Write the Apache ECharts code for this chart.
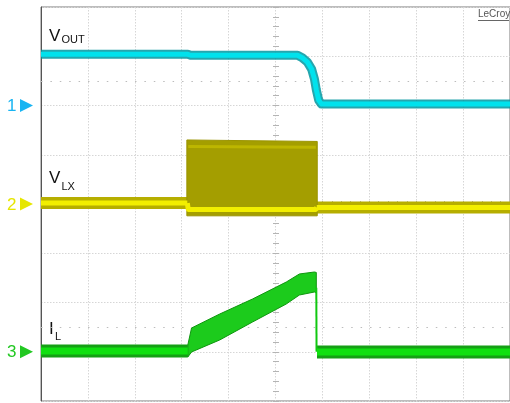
<!DOCTYPE html>
<html>
<head>
<meta charset="utf-8">
<script src="https://cdn.jsdelivr.net/npm/echarts@6/dist/echarts.min.js"></script>
<style>
  html, body { margin: 0; padding: 0; background: #ffffff; }
  #c { width: 510px; height: 403px; }
</style>
</head>
<body>
<div id="c"></div>
<script>
// Screen units: time in divisions (10 across), amplitude in divisions (8 high, 0 at the bottom)
const channelNames   = ['1', '2', '3'];
const channelOffsets = [6.0, 4.0, 1.0];
const channelColors  = ['#18b4f2', '#e6e600', '#22c822'];

// Channel 1: V_OUT
const voutT = [0, 3.13, 3.19, 5.47, 5.57, 5.68, 5.77, 5.83, 5.87, 5.92, 5.98, 10];
const voutV = [7.04, 7.04, 7.02, 7.02, 6.97, 6.88, 6.74, 6.54, 6.32, 6.11, 6.03, 6.03];

// Channel 2: V_LX (idle before, switching envelope, idle after)
const vlxPreT  = [0, 3.12];
const vlxPreV  = [4.02, 4.02];
const vlxOnT   = [3.12, 3.14, 5.86, 5.88];
const vlxOnV   = [4.02, 3.89, 3.89, 3.93];
const vlxPostT = [5.88, 10];
const vlxPostV = [3.93, 3.93];
const vlxSwT  = [3.11, 5.89];
const vlxSwLo = [3.76, 3.76];
const vlxSwHi = [5.30, 5.27];
const vlxTopT = [3.14, 5.86];
const vlxTopV = [5.17, 5.15];

// Channel 3: I_L (flat parts, ramp envelope, turn-off edge)
const ilPreT  = [0, 3.13];
const ilPreV  = [1.015, 1.015];
const ilPostT = [5.885, 10];
const ilPostV = [0.995, 0.995];
const ilEdgeT = [5.87, 5.875];
const ilEdgeV = [2.30, 1.00];
const ilRampT  = [3.13, 3.21, 3.81, 4.51, 5.23, 5.51, 5.83, 5.87];
const ilRampLo = [0.893, 0.995, 1.239, 1.604, 1.970, 2.152, 2.213, 2.193];
const ilRampHi = [1.137, 1.482, 1.766, 2.071, 2.416, 2.579, 2.619, 2.610];

// Dotted reference rows
const dotRows = [6.5, 1.5];

const FONT = 'Liberation Sans, Arial, sans-serif';

function pairs(T, V) { return T.map((t, i) => [t, V[i]]); }

function trace(name, T, V, color, width, z) {
  return {
    type: 'line', name, data: pairs(T, V), symbol: 'none', silent: true, z,
    lineStyle: { color, width, cap: 'butt', join: 'round' }, animation: false
  };
}

function band(name, T, lo, hi, fill, stroke, z) {
  return {
    type: 'custom', name, coordinateSystem: 'cartesian2d', silent: true, z, clip: true,
    data: [[T[0], lo[0]]],
    renderItem: function (params, api) {
      const pts = [];
      for (let i = 0; i < T.length; i++) pts.push(api.coord([T[i], hi[i]]));
      for (let i = T.length - 1; i >= 0; i--) pts.push(api.coord([T[i], lo[i]]));
      return { type: 'polygon', shape: { points: pts }, style: { fill, stroke, lineWidth: 1 } };
    },
    animation: false
  };
}

const tickStyle = { color: '#b4b4b4' };
const tickAxisX = (inside) => ({
  type: 'value', min: 0, max: 10, interval: 1, position: 'bottom', offset: -197,
  axisLine: { show: false }, axisLabel: { show: false }, splitLine: { show: false },
  axisTick: { show: true, inside, length: 3, lineStyle: tickStyle },
  minorTick: { show: true, splitNumber: 5, length: 3, lineStyle: tickStyle }
});
const tickAxisY = (inside) => ({
  type: 'value', min: 0, max: 8, interval: 1, position: 'left', offset: -235,
  axisLine: { show: false }, axisLabel: { show: false }, splitLine: { show: false },
  axisTick: { show: true, inside, length: 3, lineStyle: tickStyle },
  minorTick: { show: true, splitNumber: 5, length: 3, lineStyle: tickStyle }
});

const chart = echarts.init(document.getElementById('c'), null, { renderer: 'canvas' });

chart.setOption({
  animation: false,
  backgroundColor: '#ffffff',
  grid: { left: 41, top: 7, right: -1, bottom: 2, show: true, borderColor: '#7a7a7a', borderWidth: 1 },
  xAxis: [
    {
      type: 'value', min: 0, max: 10, interval: 1,
      axisLine: { show: false }, axisTick: { show: false }, axisLabel: { show: false },
      splitLine: { show: true, lineStyle: { color: '#d6d6d6', type: [1.5, 1.5], width: 1 } }
    },
    tickAxisX(false), tickAxisX(true)
  ],
  yAxis: [
    {
      type: 'value', min: 0, max: 8, interval: 1,
      axisLine: { show: true, lineStyle: { color: '#555555', width: 1 } },
      axisTick: { show: false }, axisLabel: { show: false },
      splitLine: { show: true, lineStyle: { color: '#d6d6d6', type: [1.5, 1.5], width: 1 } }
    },
    tickAxisY(false), tickAxisY(true)
  ],
  series: [
    {
      type: 'line', name: 'rows', data: [], silent: true, z: 1,
      markLine: {
        silent: true, symbol: 'none', label: { show: false }, animation: false,
        lineStyle: { color: '#bcbcbc', type: [1.5, 7.9], width: 1.2 },
        data: dotRows.map(v => ({ yAxis: v }))
      }
    },
    // V_OUT
    trace('VOUT fringe', voutT, voutV, 'rgba(0,150,160,0.85)', 9, 5),
    trace('VOUT', voutT, voutV, '#00e2ed', 5, 6),
    // V_LX
    trace('VLX fringe', vlxPreT, vlxPreV, '#b6ae00', 12, 5),
    trace('VLX fringe post', vlxPostT, vlxPostV, '#b6ae00', 12, 5),
    band('VLX switching', vlxSwT, vlxSwLo, vlxSwHi, '#a49e00', '#9a9400', 6),
    trace('VLX top', vlxTopT, vlxTopV, 'rgba(200,192,0,0.7)', 3, 7),
    trace('VLX', vlxPreT, vlxPreV, '#f2ee00', 5, 8),
    trace('VLX on', vlxOnT, vlxOnV, '#f2ee00', 5, 8),
    trace('VLX post', vlxPostT, vlxPostV, '#f2ee00', 5, 8),
    // I_L
    trace('IL fringe', ilPreT, ilPreV, '#15a015', 13, 5),
    trace('IL fringe post', ilPostT, ilPostV, '#15a015', 13, 5),
    band('IL ramp', ilRampT, ilRampLo, ilRampHi, '#1ccb1c', '#0f960f', 6),
    trace('IL edge', ilEdgeT, ilEdgeV, '#10c810', 2, 6),
    trace('IL', ilPreT, ilPreV, '#10e010', 7, 7),
    trace('IL post', ilPostT, ilPostV, '#10e010', 7, 7)
  ]
});

// Channel markers, trace names and the instrument badge
const graphics = [];
channelOffsets.forEach((off, i) => {
  const y = chart.convertToPixel({ yAxisIndex: 0 }, off);
  graphics.push({
    type: 'text', silent: true,
    style: { text: channelNames[i], x: 7, y: y + 1, font: '17px ' + FONT, fill: channelColors[i], verticalAlign: 'middle' }
  });
  graphics.push({
    type: 'polygon', silent: true,
    shape: { points: [[20, y - 6.5], [33, y], [20, y + 6.5]] },
    style: { fill: channelColors[i] }
  });
});

const names = [
  { main: 'V', sub: 'OUT', x: 49, y: 28, subX: 61.5, subY: 34 },
  { main: 'V', sub: 'LX',  x: 49, y: 170, subX: 61.5, subY: 181 },
  { main: 'I', sub: 'L',   x: 49, y: 321, subX: 55, subY: 331 }
];
names.forEach(n => {
  graphics.push({ type: 'text', silent: true, style: { text: n.main, x: n.x, y: n.y, font: '17px ' + FONT, fill: '#111111', verticalAlign: 'top' } });
  graphics.push({ type: 'text', silent: true, style: { text: n.sub, x: n.subX, y: n.subY, font: '11px ' + FONT, fill: '#111111', verticalAlign: 'top' } });
});

graphics.push({ type: 'text', silent: true, style: { text: 'LeCroy', x: 478, y: 9, font: '10px ' + FONT, fill: '#555555', verticalAlign: 'top' } });
graphics.push({ type: 'line', silent: true, shape: { x1: 478, y1: 20.5, x2: 509, y2: 20.5 }, style: { stroke: '#666666', lineWidth: 1 } });

chart.setOption({ graphic: graphics });
</script>
</body>
</html>
